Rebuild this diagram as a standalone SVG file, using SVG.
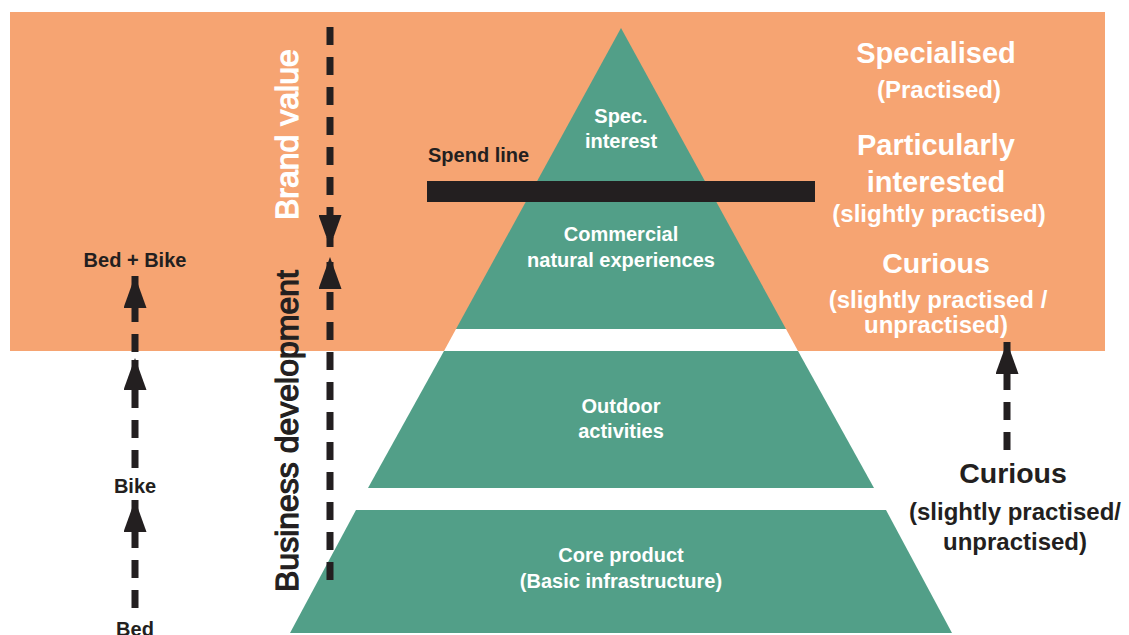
<svg xmlns="http://www.w3.org/2000/svg" width="1129" height="635" viewBox="0 0 1129 635">
<style>
text { font-family: "Liberation Sans", Arial, sans-serif; }
.lvl { fill: #529f88; }
.gap { fill: #ffffff; }
.pl { fill: #ffffff; font-weight: bold; font-size: 20px; text-anchor: middle; }
.wbig { fill: #ffffff; font-weight: bold; font-size: 29px; text-anchor: middle; }
.wsm { fill: #ffffff; font-weight: bold; font-size: 24px; text-anchor: middle; }
.dbig { fill: #231f20; font-weight: bold; font-size: 28.5px; text-anchor: middle; }
.dsm { fill: #231f20; font-weight: bold; font-size: 24px; text-anchor: middle; }
.lab { fill: #231f20; font-weight: bold; font-size: 20px; text-anchor: middle; }
.rot { font-size: 32px; font-weight: normal; stroke-width: 1.2px; }
.dash { fill: none; stroke: #231f20; stroke-width: 7; stroke-dasharray: 18 12; marker-end: url(#ah); }
</style>
<defs>
<marker id="ah" viewBox="0 0 32 23" refX="32" refY="11.5" markerWidth="32" markerHeight="23" markerUnits="userSpaceOnUse" orient="auto">
<path d="M0,0 L32,11.5 L0,23 Z" fill="#231f20"/>
</marker>
</defs>
<rect id="background" x="10" y="12" width="1095" height="339" fill="#f6a472"/>

<g id="level-top">
<polygon class="lvl" points="621,28 786,329 456,329"/>
<text class="pl" x="621" y="123">Spec.</text>
<text class="pl" x="621" y="148">interest</text>
<text class="pl" x="621" y="241">Commercial</text>
<text class="pl" x="621" y="267">natural experiences</text>
</g>
<polygon class="gap" points="456,329 786,329 798,351 444,351"/>
<g id="level-outdoor">
<polygon class="lvl" points="444,351 798,351 874,488 368,488"/>
<text class="pl" x="621" y="413">Outdoor</text>
<text class="pl" x="621" y="438">activities</text>
</g>
<g id="level-core">
<polygon class="lvl" points="356,510 886,510 952,633 290,633"/>
<text class="pl" x="621" y="562">Core product</text>
<text class="pl" x="621" y="588">(Basic infrastructure)</text>
</g>

<g id="spend-line">
<rect x="427" y="181" width="388" height="21" fill="#231f20"/>
<text x="428" y="162" fill="#231f20" font-weight="bold" font-size="20">Spend line</text>
</g>

<g id="segments-right">
<text class="wbig" x="936" y="63">Specialised</text>
<text class="wsm" x="939" y="98">(Practised)</text>
<text class="wbig" x="936" y="155">Particularly</text>
<text class="wbig" x="936" y="192">interested</text>
<text class="wsm" x="939" y="222">(slightly practised)</text>
<text class="dbig" x="936" y="273" style="fill:#ffffff">Curious</text>
<text class="wsm" x="938" y="308">(slightly practised /</text>
<text class="wsm" x="936" y="333">unpractised)</text>
</g>

<g id="curious-bottom">
<text class="dbig" x="1013" y="483">Curious</text>
<text class="dsm" x="1015" y="520">(slightly practised/</text>
<text class="dsm" x="1015" y="550">unpractised)</text>
</g>

<g id="axis-labels">
<text class="rot" fill="#ffffff" stroke="#ffffff" transform="translate(298,220) rotate(-90)">Brand value</text>
<text class="rot" fill="#231f20" stroke="#231f20" transform="translate(298,592) rotate(-90)">Business development</text>
</g>

<g id="left-labels">
<text class="lab" x="135" y="267">Bed + Bike</text>
<text class="lab" x="135" y="493">Bike</text>
<text class="lab" x="135" y="636">Bed</text>
</g>

<g id="connectors">
<path class="dash" d="M330,27 V247"/>
<path class="dash" d="M330,580 V257"/>
<path class="dash" d="M135,608 V500"/>
<path class="dash" d="M135,468 V358"/>
<path class="dash" d="M135,352 V276"/>
<path class="dash" d="M1007,450 V342"/>
</g>
</svg>
